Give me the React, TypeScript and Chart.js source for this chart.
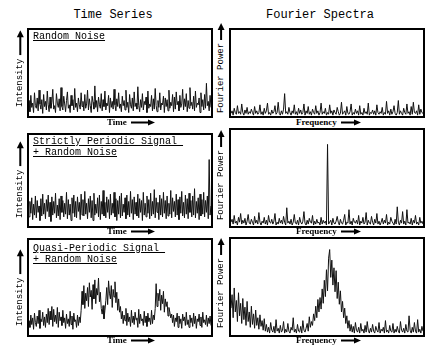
import React, { useEffect, useRef } from "react";
import { Chart, registerables } from "chart.js";

Chart.register(...registerables);

// ---- data (percent of panel height) ----
const timeRandom = [
  18,5,24,10,15,4,27,12,9,21,6,30,14,8,19,3,25,11,17,7,
  29,13,5,22,9,16,31,8,12,4,26,15,10,20,6,33,11,7,23,14,
  5,18,28,9,13,4,24,12,19,7,32,10,15,5,21,13,8,27,11,17,
  6,25,9,14,30,7,20,12,4,23,16,8,35,10,18,5,22,13,9,26,
  6,19,11,29,7,15,12,24,4,21,10,17,8,31,13,6,20,11,27,9,
  14,5,23,12,18,7,30,10,16,4,25,13,9,21,6,28,11,15,8,34,
  12,5,19,10,26,7,17,13,22,4,29,9,14,11,24,6,20,8,32,12,
  5,18,10,27,7,15,13,23,4,21,11,19,6,30,9,16,12,25,5,22,
  8,28,13,17,6,24,10,14,31,7,20,11,26,5,18,9,33,12,16,8,
  23,6,29,10,15,13,21,4,27,11,19,7,25,9,38,12,17,6,24,10
];

const timePeriodic = [
  10,27,14,31,7,24,12,33,9,28,15,22,6,30,11,35,13,25,8,29,
  16,34,10,26,5,32,12,27,14,36,9,23,11,30,7,33,15,28,10,25,
  13,37,8,29,12,24,6,31,14,34,10,27,9,32,16,26,7,35,12,29,
  11,38,13,25,8,30,15,33,9,28,6,36,12,24,14,31,10,34,7,27,
  13,39,11,26,9,32,15,29,8,35,12,25,14,37,10,30,6,28,13,33,
  9,36,11,24,15,31,8,34,12,27,10,38,14,29,7,32,13,26,11,35,
  9,30,15,28,6,37,12,25,10,33,14,29,8,36,11,27,13,40,9,31,
  15,26,7,34,12,30,10,37,14,28,8,33,11,25,13,39,9,31,16,27,
  10,35,12,29,7,32,14,38,11,26,9,34,13,30,8,36,15,28,10,33,
  12,41,9,27,14,31,7,35,11,29,13,37,10,28,15,33,8,73,12,22
];

const timeQuasi = [
  15,8,21,11,18,6,23,13,9,20,12,26,7,17,14,24,10,19,8,22,
  13,28,11,25,16,30,9,27,14,21,12,29,8,24,15,19,10,26,13,18,
  7,22,12,17,9,25,11,20,6,23,14,16,8,21,10,19,13,
  26,46,32,52,28,44,36,50,30,55,40,47,27,53,38,58,33,49,42,60,35,45,28,
  22,31,17,26,
  36,50,32,57,44,38,52,29,48,40,56,34,45,26,38,24,30,
  17,25,12,21,15,28,10,23,14,19,9,26,13,20,11,24,16,18,8,27,12,22,15,17,10,25,13,20,9,23,14,18,11,26,12,21,16,
  28,54,30,44,36,48,26,42,33,46,24,38,30,35,20,29,24,18,22,
  13,21,9,18,14,23,8,20,12,17,7,22,15,19,10,24,11,16,8,21,13,18,9,23,12,20,7,17,14,22,10,19,8,24,13,16,11,21,9,18,12,20,10
];

const specRandom = [
  3,6,1,9,4,2,12,3,5,2,14,4,1,7,3,10,2,5,3,8,
  4,1,11,3,6,2,4,13,2,5,1,9,3,6,15,2,4,1,7,3,
  5,12,2,4,16,3,1,6,2,8,26,3,5,2,10,4,1,6,3,13,
  2,5,1,9,3,7,2,4,14,1,6,3,11,2,5,1,8,4,2,12,
  3,6,1,4,15,2,5,3,9,1,4,2,13,3,6,1,7,4,2,10,
  5,1,3,16,2,4,6,1,11,3,2,5,14,1,4,2,8,3,6,1,
  12,2,4,1,9,3,5,2,15,1,4,3,7,2,6,1,13,4,2,5,
  3,10,1,4,2,17,3,6,1,8,2,5,12,3,1,4,18,2,6,3,
  1,9,4,2,14,3,5,1,11,2,16,4,3,6,1,13,2,8,4,3
];

const specPeriodic = [
  4,7,2,11,3,5,1,9,4,13,2,6,3,8,1,5,12,3,2,7,
  4,1,10,3,6,2,14,4,1,5,3,9,2,6,1,11,4,3,7,2,
  5,13,1,4,2,8,3,6,2,10,4,1,19,3,5,2,7,1,4,12,
  3,2,6,1,9,4,2,5,15,3,1,6,2,8,4,3,11,1,5,2,
  7,3,4,1,9,2,6,3,5,1,85,2,4,6,1,8,3,2,5,10,
  4,1,7,3,2,6,12,1,4,3,17,2,5,1,8,4,3,6,2,11,
  1,5,3,9,2,4,14,1,6,3,2,10,4,1,7,3,13,2,5,1,
  4,8,2,6,3,12,1,4,2,9,5,3,1,7,2,20,4,1,6,3,
  15,2,5,1,17,3,4,2,8,1,6,3,11,2,4,1,9,3,5,2
];

const specQuasi = [
  28,42,18,49,24,36,14,44,20,33,12,38,16,29,10,35,14,24,8,30,
  11,22,7,26,10,18,6,21,9,15,5,17,
  4,11,3,8,2,13,5,3,9,2,16,4,7,2,10,3,5,14,2,6,
  3,12,4,2,8,5,18,3,6,2,11,4,3,9,2,15,5,3,7,12,
  4,19,8,14,
  10,22,15,30,18,37,24,39,27,48,33,57,40,68,46,80,89,60,78,52,70,45,67,38,55,32,46,24,35,18,28,
  12,20,7,15,4,11,3,9,2,13,5,3,8,2,12,4,6,2,10,3,
  14,5,2,7,3,11,4,2,9,5,3,13,2,6,4,8,2,15,3,5,
  2,10,4,3,12,2,6,3,9,4,2,14,5,3,7,2,11,4,3,20,
  5,2,8,3,13,4,2,16,3,6,2,9,4
];

const columnTitles = ["Time Series", "Fourier Spectra"];
const timeAxis = "Time";
const freqAxis = "Frequency";
const intensityLabel = "Intensity";
const powerLabel = "Fourier Power";
const panelLabels = [["Random Noise"], ["Strictly Periodic Signal ", "+ Random Noise"], ["Quasi-Periodic Signal ", "+ Random Noise"]];

const MONO = '"Liberation Mono", "DejaVu Sans Mono", monospace';
const SERIF = '"Liberation Serif", "DejaVu Serif", serif';

function Panel({ data, left, top, width, height }: { data: number[]; left: number; top: number; width: number; height: number }) {
  const ref = useRef<HTMLCanvasElement>(null);
  useEffect(() => {
    const chart = new Chart(ref.current!, {
      type: "line",
      data: {
        labels: data.map((_, i) => String(i)),
        datasets: [{ data, borderColor: "#111", borderWidth: 1, pointRadius: 0, tension: 0, fill: false }],
      },
      options: {
        animation: false,
        responsive: false,
        maintainAspectRatio: false,
        events: [],
        layout: { padding: 0 },
        plugins: { legend: { display: false }, tooltip: { enabled: false }, title: { display: false } },
        scales: {
          x: { display: false },
          y: { display: false, min: 0, max: 100 },
        },
      },
    });
    return () => chart.destroy();
  }, [data]);
  return (
    <div style={{ position: "absolute", left, top, width, height, border: "2px solid #000", boxSizing: "border-box", background: "#fff" }}>
      <canvas ref={ref} width={width - 4} height={height - 4} style={{ display: "block" }} />
    </div>
  );
}

function Arrow({ len, h = 9 }: { len: number; h?: number }) {
  return (
    <svg width={len} height={h} style={{ display: "block", flex: "none" }}>
      <line x1={0} y1={h / 2} x2={len - 6} y2={h / 2} stroke="#000" strokeWidth={2} />
      <polygon points={`${len - 7},0.5 ${len},${h / 2} ${len - 7},${h - 0.5}`} fill="#000" />
    </svg>
  );
}

function YLabel({ text, cx, bottom, arrowLen }: { text: string; cx: number; bottom: number; arrowLen: number }) {
  const textW = text.length * 5.4;
  const L = textW + 3 + arrowLen;
  const H = 12;
  const cy = bottom - L / 2;
  return (
    <div style={{ position: "absolute", left: cx - L / 2, top: cy - H / 2, width: L, height: H, transform: "rotate(-90deg)", display: "flex", alignItems: "center", gap: 3, whiteSpace: "pre" }}>
      <span style={{ font: `9px ${MONO}`, lineHeight: "12px" }}>{text}</span>
      <Arrow len={arrowLen} h={8} />
    </div>
  );
}

function XLabel({ text, left, cy, arrowLen }: { text: string; left: number; cy: number; arrowLen: number }) {
  return (
    <div style={{ position: "absolute", left, top: cy - 6, height: 12, display: "flex", alignItems: "center", gap: 4 }}>
      <span style={{ font: `bold 9px ${SERIF}`, lineHeight: "12px" }}>{text}</span>
      <Arrow len={arrowLen} h={7} />
    </div>
  );
}

function PanelText({ lines, left, top }: { lines: string[]; left: number; top: number }) {
  return (
    <div style={{ position: "absolute", left, top, font: `10px ${MONO}`, lineHeight: "11px", whiteSpace: "pre" }}>
      {lines.map((l, i) => (
        <div key={i} style={{ textDecoration: "underline" }}>{l}</div>
      ))}
    </div>
  );
}

export default function App() {
  useEffect(() => {
    document.body.style.margin = "0";
  }, []);
  const L = { left: 27, width: 186 };
  const R = { left: 229, width: 196 };
  return (
    <div style={{ position: "relative", width: 432, height: 351, background: "#fff", overflow: "hidden", color: "#000" }}>
      <div style={{ position: "absolute", left: 113 - 60, width: 120, top: 8, textAlign: "center", font: `12px ${MONO}`, lineHeight: "14px" }}>{columnTitles[0]}</div>
      <div style={{ position: "absolute", left: 320 - 70, width: 140, top: 8, textAlign: "center", font: `12px ${MONO}`, lineHeight: "14px" }}>{columnTitles[1]}</div>

      <Panel data={timeRandom} left={L.left} top={28} width={L.width} height={90} />
      <Panel data={specRandom} left={R.left} top={28} width={R.width} height={90} />
      <Panel data={timePeriodic} left={L.left} top={133} width={L.width} height={95} />
      <Panel data={specPeriodic} left={R.left} top={128} width={R.width} height={100} />
      <Panel data={timeQuasi} left={L.left} top={238} width={L.width} height={99} />
      <Panel data={specQuasi} left={R.left} top={237} width={R.width} height={100} />

      <PanelText lines={panelLabels[0]} left={33} top={31} />
      <PanelText lines={panelLabels[1]} left={33} top={136} />
      <PanelText lines={panelLabels[2]} left={33} top={243} />

      <YLabel text={intensityLabel} cx={20} bottom={107} arrowLen={25} />
      <YLabel text={intensityLabel} cx={20} bottom={218} arrowLen={25} />
      <YLabel text={intensityLabel} cx={20} bottom={326} arrowLen={25} />
      <YLabel text={powerLabel} cx={221} bottom={113} arrowLen={17} />
      <YLabel text={powerLabel} cx={221} bottom={220} arrowLen={17} />
      <YLabel text={powerLabel} cx={221} bottom={328} arrowLen={17} />

      <XLabel text={timeAxis} left={107} cy={122} arrowLen={24} />
      <XLabel text={timeAxis} left={107} cy={231} arrowLen={24} />
      <XLabel text={timeAxis} left={107} cy={340} arrowLen={24} />
      <XLabel text={freqAxis} left={296} cy={122} arrowLen={20} />
      <XLabel text={freqAxis} left={296} cy={231} arrowLen={20} />
      <XLabel text={freqAxis} left={296} cy={340} arrowLen={20} />
    </div>
  );
}
